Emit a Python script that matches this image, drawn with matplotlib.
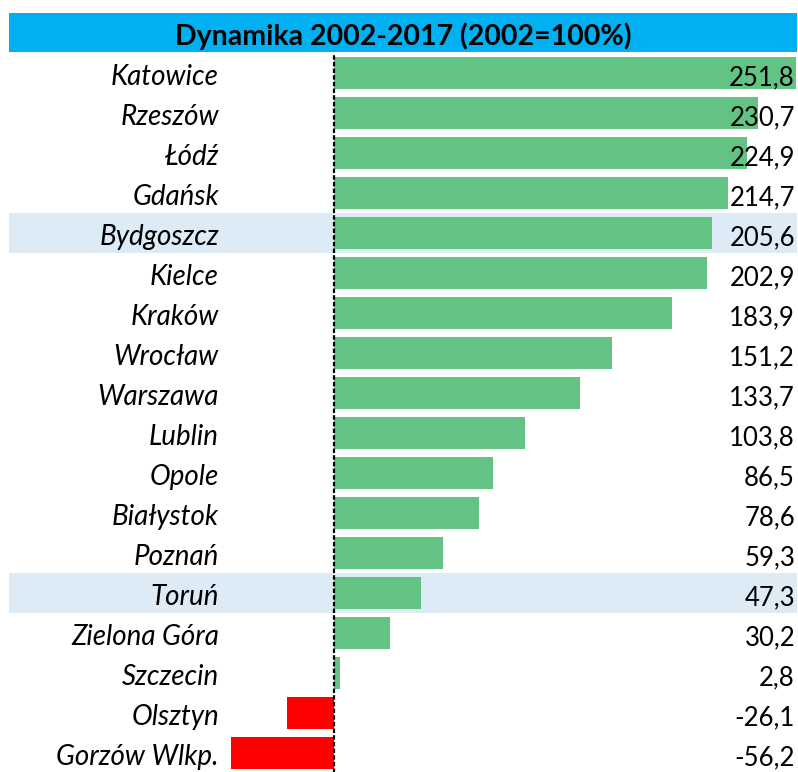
import matplotlib
matplotlib.use("Agg")
import matplotlib.pyplot as plt
from matplotlib.patches import Rectangle
from matplotlib.transforms import blended_transform_factory

title = "Dynamika 2002-2017 (2002=100%)"
cities = [
    "Katowice", "Rzeszów", "Łódź", "Gdańsk", "Bydgoszcz", "Kielce", "Kraków",
    "Wrocław", "Warszawa", "Lublin", "Opole", "Białystok", "Poznań", "Toruń",
    "Zielona Góra", "Szczecin", "Olsztyn", "Gorzów Wlkp.",
]
values = [
    251.8, 230.7, 224.9, 214.7, 205.6, 202.9, 183.9, 151.2, 133.7, 103.8,
    86.5, 78.6, 59.3, 47.3, 30.2, 2.8, -26.1, -56.2,
]
highlighted = ["Bydgoszcz", "Toruń"]

W, H = 798, 772
fig = plt.figure(figsize=(W / 100, H / 100), dpi=100)
fig.patch.set_facecolor("white")

# one row = 40 px, rows start right under the header
ax = fig.add_axes([0, -1 / H, 1, 720 / H])
px_per_unit = 1.834
zero_px = 334.5
ax.set_xlim(-zero_px / px_per_unit, (W - zero_px) / px_per_unit)
ax.set_ylim(len(cities) - 0.5, -0.5)
ax.axis("off")

fx = blended_transform_factory(fig.transFigure, ax.transData)

for i, c in enumerate(cities):
    if c in highlighted:
        ax.add_patch(Rectangle((9 / W, i - 0.5), (797 - 9) / W, 1.0,
                               transform=fx, facecolor="#DDEBF7",
                               edgecolor="none", zorder=0))

colors = ["#63C384" if v >= 0 else "#FF0000" for v in values]
ax.barh(range(len(cities)), values, height=0.8, color=colors, zorder=2)

ax.axvline(0, color="black", lw=1.6, ls=(0, (2, 1)), zorder=3)

for i, (c, v) in enumerate(zip(cities, values)):
    ax.text(219 / W, i + 0.3, c, transform=fx, ha="right", va="baseline",
            fontsize=20, style="italic", family="Lato", zorder=4)
    label = f"{v:.1f}".replace(".", ",")
    ax.text(795 / W, i + 0.3, label, transform=fx, ha="right", va="baseline",
            fontsize=18.5, family="Lato", zorder=4)

# header band
fig.patches.append(Rectangle((9 / W, 1 - 52 / H), (797 - 9) / W, 39 / H,
                             transform=fig.transFigure, facecolor="#00B0F0",
                             edgecolor="none", zorder=0))
fig.text(403 / W, 1 - 45 / H, title, ha="center", va="baseline",
         fontsize=20.5, fontweight="bold", family="Lato")

fig.savefig("out.png", dpi=100)
